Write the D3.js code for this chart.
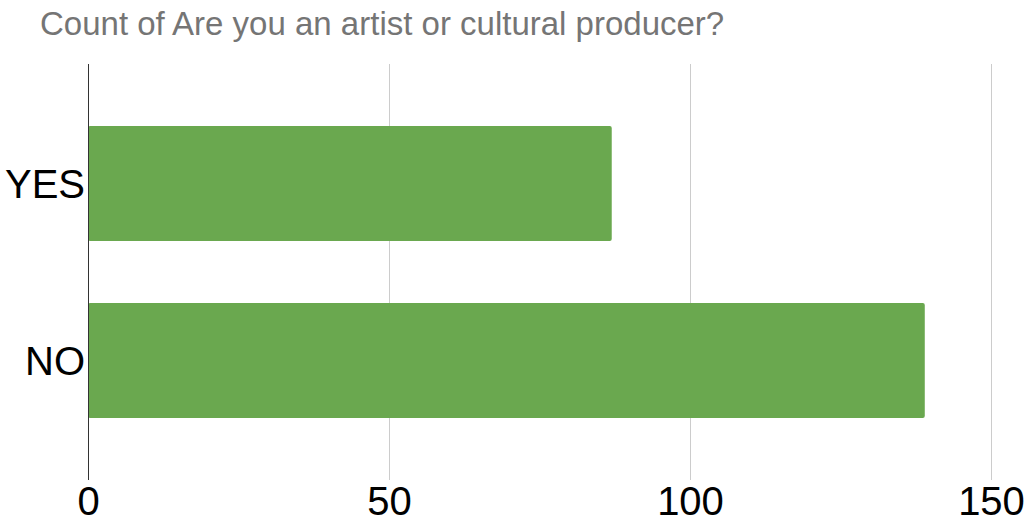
<!DOCTYPE html>
<html>
<head>
<meta charset="utf-8">
<script src="https://cdn.jsdelivr.net/npm/d3@7"></script>
<style>
  body { margin: 0; background: #fff; }
  svg text { font-family: "Liberation Sans", Arial, sans-serif; }
</style>
</head>
<body>
<div id="chart"></div>
<script>
var categories = ["YES", "NO"];
var counts = [87, 139];
var xTicks = [0, 50, 100, 150];

var svgWidth = 1032;
var svgHeight = 522;

var margin = { top: 64, right: 41, bottom: 42, left: 88 };
var width = svgWidth - margin.left - margin.right;
var height = svgHeight - margin.top - margin.bottom;

var svg = d3.select("#chart")
  .append("svg")
  .attr("width", svgWidth)
  .attr("height", svgHeight);

// title
svg.append("text")
  .attr("x", 40)
  .attr("y", 35)
  .attr("fill", "#757575")
  .attr("font-size", "33px")
  .text("Count of Are you an artist or cultural producer?");

var chartGroup = svg.append("g")
  .attr("transform", `translate(${margin.left}, ${margin.top})`);

var xScale = d3.scaleLinear()
  .domain([0, 150])
  .range([0, 903]);

var yScale = d3.scaleBand()
  .domain(categories)
  .range([0, height])
  .padding(0.35);

// gridlines
chartGroup.selectAll(".grid")
  .data(xTicks.slice(1))
  .enter()
  .append("line")
  .attr("x1", d => xScale(d) + 0.5)
  .attr("x2", d => xScale(d) + 0.5)
  .attr("y1", 0)
  .attr("y2", height)
  .attr("stroke", "#cccccc")
  .attr("stroke-width", 1);

// bars
chartGroup.selectAll(".bar")
  .data(categories)
  .enter()
  .append("rect")
  .attr("x", 0)
  .attr("y", d => yScale(d))
  .attr("width", (d, i) => xScale(counts[i]))
  .attr("height", yScale.bandwidth())
  .attr("rx", 2)
  .attr("fill", "#6aa84f");

// x axis
var bottomAxis = d3.axisBottom(xScale)
  .tickValues(xTicks)
  .tickSize(0)
  .tickPadding(7);

var xAxis = chartGroup.append("g")
  .attr("transform", `translate(0, ${height})`)
  .call(bottomAxis);
xAxis.select(".domain").remove();
xAxis.selectAll("text")
  .attr("font-size", "40px")
  .attr("fill", "#000");

// y axis
var leftAxis = d3.axisLeft(yScale)
  .tickSize(0)
  .tickPadding(3);

var yAxis = chartGroup.append("g")
  .call(leftAxis);
yAxis.select(".domain").remove();
yAxis.selectAll("text")
  .attr("font-size", "40px")
  .attr("dy", "0.36em")
  .attr("fill", "#000");

// baseline
chartGroup.append("line")
  .attr("x1", 0.5)
  .attr("x2", 0.5)
  .attr("y1", 0)
  .attr("y2", height)
  .attr("stroke", "#333333")
  .attr("stroke-width", 1);
</script>
</body>
</html>
